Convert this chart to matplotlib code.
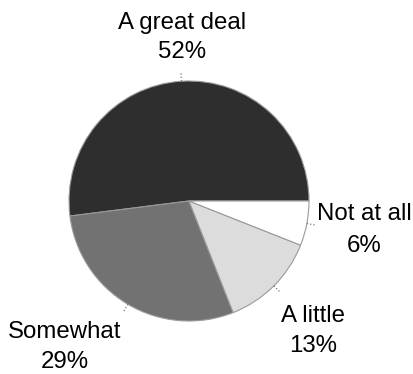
import numpy as np
import matplotlib
matplotlib.use('Agg')
import matplotlib.pyplot as plt

plt.rcParams['font.family'] = ['Liberation Sans', 'DejaVu Sans']

categories = ['A great deal', 'Somewhat', 'A little', 'Not at all']
shares = [52, 29, 13, 6]
colors = ['#2e2e2e', '#727272', '#dcdcdc', '#ffffff']

# label centre x and the two baselines (name, percent), pixels from the top
label_pos = {
    'A great deal': (182, 29, 58),
    'Somewhat': (65, 338, 368),
    'A little': (313, 322, 352),
    'Not at all': (364, 220, 252),
}

W, H = 414, 374
CX, CY, R = 189, 173, 120

fig = plt.figure(figsize=(W / 100, H / 100), dpi=100, facecolor='white')
ax = fig.add_axes([0, 0, 1, 1])

wedges, _ = ax.pie(shares, colors=colors, startangle=0, counterclock=True,
                   center=(CX, CY), radius=R,
                   wedgeprops=dict(edgecolor='#9a9a9a', linewidth=0.8))

for w, name, val in zip(wedges, categories, shares):
    mid = np.deg2rad((w.theta1 + w.theta2) / 2)
    dx, dy = np.cos(mid), np.sin(mid)
    # short dotted leader going out from the rim
    ax.plot([CX + R * dx, CX + (R + 9) * dx], [CY + R * dy, CY + (R + 9) * dy],
            color='#777777', linestyle=':', linewidth=0.9)
    x, y1, y2 = label_pos[name]
    ax.text(x, H - y1, name, ha='center', va='baseline', fontsize=17.3)
    ax.text(x, H - y2, f'{val}%', ha='center', va='baseline', fontsize=17.3)

ax.set_xlim(0, W)
ax.set_ylim(0, H)
ax.set_aspect('auto')
ax.axis('off')

plt.savefig('out.png', dpi=100, facecolor='white')
plt.close()
